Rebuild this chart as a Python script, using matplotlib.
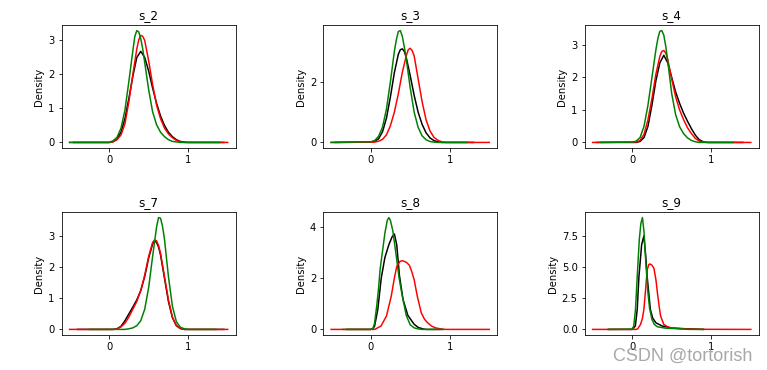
import matplotlib.pyplot as plt

# density curves (x, y) per series
titles = ['s_2', 's_3', 's_4', 's_7', 's_8', 's_9']

s2_black_x = [-0.45, 0.0, 0.05, 0.1, 0.15, 0.2, 0.25, 0.3, 0.35, 0.4, 0.45, 0.5, 0.55, 0.6, 0.65, 0.7, 0.75, 0.8, 0.85, 0.9, 0.95, 1.0, 1.45]
s2_black_y = [0, 0, 0.02, 0.1, 0.3, 0.7, 1.3, 1.95, 2.5, 2.68, 2.5, 2.1, 1.6, 1.15, 0.78, 0.5, 0.3, 0.17, 0.08, 0.03, 0.01, 0, 0]
s2_red_x = [-0.5, 0.0, 0.05, 0.1, 0.15, 0.2, 0.25, 0.3, 0.35, 0.375, 0.4, 0.425, 0.45, 0.5, 0.55, 0.6, 0.65, 0.7, 0.75, 0.8, 0.85, 0.9, 0.95, 1.5]
s2_red_y = [0, 0, 0.02, 0.08, 0.22, 0.55, 1.2, 2.0, 2.75, 3.02, 3.15, 3.12, 3.0, 2.4, 1.7, 1.1, 0.7, 0.42, 0.25, 0.14, 0.06, 0.02, 0, 0]
s2_green_x = [-0.5, 0.0, 0.05, 0.1, 0.15, 0.2, 0.25, 0.3, 0.325, 0.35, 0.375, 0.4, 0.425, 0.45, 0.5, 0.55, 0.6, 0.65, 0.7, 0.75, 0.8, 0.9, 1.4]
s2_green_y = [0, 0, 0.05, 0.15, 0.42, 0.95, 1.8, 2.7, 3.12, 3.29, 3.25, 3.05, 2.75, 2.35, 1.55, 0.9, 0.52, 0.3, 0.17, 0.08, 0.03, 0, 0]

s3_black_x = [-0.45, 0.0, 0.05, 0.1, 0.15, 0.2, 0.25, 0.3, 0.35, 0.375, 0.4, 0.425, 0.45, 0.5, 0.55, 0.6, 0.65, 0.7, 0.75, 0.8, 0.85, 0.9, 1.3]
s3_black_y = [0, 0.01, 0.04, 0.12, 0.35, 0.8, 1.5, 2.3, 2.9, 3.05, 3.08, 3.0, 2.8, 2.2, 1.55, 1.0, 0.6, 0.32, 0.15, 0.06, 0.02, 0, 0]
s3_red_x = [-0.5, 0.05, 0.1, 0.15, 0.2, 0.25, 0.3, 0.35, 0.4, 0.45, 0.475, 0.5, 0.525, 0.55, 0.6, 0.65, 0.7, 0.75, 0.8, 0.85, 0.9, 0.95, 1.5]
s3_red_y = [0, 0.01, 0.04, 0.1, 0.25, 0.55, 1.0, 1.6, 2.3, 2.85, 3.05, 3.1, 3.02, 2.85, 2.1, 1.35, 0.75, 0.38, 0.17, 0.07, 0.02, 0, 0]
s3_green_x = [-0.5, 0.0, 0.05, 0.1, 0.15, 0.2, 0.25, 0.3, 0.325, 0.35, 0.375, 0.4, 0.425, 0.45, 0.5, 0.55, 0.6, 0.65, 0.7, 0.75, 0.8, 0.85, 1.22]
s3_green_y = [0, 0.02, 0.06, 0.2, 0.5, 1.1, 2.0, 3.0, 3.38, 3.65, 3.68, 3.5, 3.15, 2.75, 1.8, 1.0, 0.5, 0.22, 0.09, 0.03, 0.01, 0, 0]

s4_black_x = [-0.45, 0.05, 0.1, 0.15, 0.2, 0.25, 0.3, 0.35, 0.4, 0.45, 0.5, 0.55, 0.6, 0.65, 0.7, 0.75, 0.8, 0.85, 0.9, 0.95, 1.4]
s4_black_y = [0, 0, 0.03, 0.15, 0.5, 1.15, 1.9, 2.45, 2.68, 2.45, 2.0, 1.55, 1.2, 0.9, 0.65, 0.42, 0.22, 0.08, 0.02, 0, 0]
s4_red_x = [-0.5, 0.05, 0.1, 0.15, 0.2, 0.25, 0.3, 0.35, 0.375, 0.4, 0.425, 0.45, 0.5, 0.55, 0.6, 0.65, 0.7, 0.75, 0.8, 0.85, 0.9, 0.95, 1.5]
s4_red_y = [0, 0.01, 0.06, 0.25, 0.7, 1.35, 2.1, 2.65, 2.8, 2.83, 2.75, 2.55, 1.95, 1.4, 1.0, 0.7, 0.45, 0.27, 0.12, 0.04, 0.01, 0, 0]
s4_green_x = [-0.4, 0.0, 0.05, 0.1, 0.15, 0.2, 0.25, 0.3, 0.325, 0.35, 0.375, 0.4, 0.425, 0.45, 0.5, 0.55, 0.6, 0.65, 0.7, 0.75, 0.8, 0.85, 1.28]
s4_green_y = [0, 0.01, 0.04, 0.15, 0.5, 1.15, 2.0, 2.85, 3.2, 3.42, 3.44, 3.3, 2.95, 2.5, 1.5, 0.85, 0.48, 0.27, 0.14, 0.06, 0.02, 0, 0]

s7_black_x = [-0.4, 0.05, 0.1, 0.15, 0.2, 0.25, 0.3, 0.35, 0.4, 0.45, 0.5, 0.55, 0.575, 0.6, 0.625, 0.65, 0.7, 0.75, 0.8, 0.85, 0.9, 0.95, 1.45]
s7_black_y = [0, 0, 0.02, 0.1, 0.28, 0.5, 0.72, 0.95, 1.25, 1.7, 2.3, 2.75, 2.85, 2.8, 2.65, 2.4, 1.65, 0.9, 0.38, 0.12, 0.03, 0, 0]
s7_red_x = [-0.5, 0.05, 0.1, 0.15, 0.2, 0.25, 0.3, 0.35, 0.4, 0.45, 0.5, 0.55, 0.575, 0.6, 0.625, 0.65, 0.7, 0.75, 0.8, 0.85, 0.9, 0.95, 1.5]
s7_red_y = [0, 0, 0.02, 0.08, 0.2, 0.4, 0.65, 0.9, 1.25, 1.75, 2.35, 2.8, 2.88, 2.85, 2.7, 2.45, 1.7, 0.95, 0.4, 0.12, 0.03, 0, 0]
s7_green_x = [-0.25, 0.2, 0.25, 0.3, 0.35, 0.4, 0.45, 0.5, 0.55, 0.6, 0.625, 0.65, 0.675, 0.7, 0.75, 0.8, 0.85, 0.9, 0.95, 1.0, 1.35]
s7_green_y = [0, 0, 0.02, 0.05, 0.12, 0.28, 0.65, 1.35, 2.35, 3.3, 3.6, 3.58, 3.32, 2.9, 1.7, 0.75, 0.25, 0.07, 0.02, 0, 0]

s8_black_x = [-0.3, 0.0, 0.03, 0.05, 0.09, 0.134, 0.18, 0.23, 0.27, 0.3, 0.33, 0.364, 0.41, 0.47, 0.55, 0.6, 0.66, 0.7, 0.9]
s8_black_y = [0, 0, 0.03, 0.13, 0.77, 2.0, 2.8, 3.3, 3.6, 3.72, 3.3, 2.1, 1.16, 0.55, 0.2, 0.08, 0.02, 0, 0]
s8_red_x = [-0.5, 0.05, 0.07, 0.13, 0.2, 0.26, 0.3, 0.33, 0.37, 0.4, 0.45, 0.49, 0.52, 0.55, 0.59, 0.64, 0.68, 0.72, 0.77, 0.82, 0.9, 0.95, 1.5]
s8_red_y = [0, 0, 0.03, 0.13, 0.52, 1.29, 2.0, 2.45, 2.65, 2.68, 2.62, 2.5, 2.25, 1.94, 1.29, 0.65, 0.4, 0.26, 0.13, 0.06, 0.01, 0, 0]
s8_green_x = [-0.35, 0.0, 0.03, 0.05, 0.08, 0.1, 0.12, 0.15, 0.18, 0.21, 0.23, 0.25, 0.28, 0.32, 0.36, 0.4, 0.45, 0.5, 0.55, 0.6, 0.65, 0.92]
s8_green_y = [0, 0, 0.05, 0.25, 1.0, 1.6, 2.35, 3.05, 3.75, 4.25, 4.36, 4.25, 3.85, 2.95, 2.0, 1.3, 0.55, 0.18, 0.06, 0.02, 0, 0]

s9_black_x = [-0.3, 0.0, 0.04, 0.064, 0.085, 0.12, 0.148, 0.17, 0.19, 0.23, 0.26, 0.3, 0.38, 0.51, 0.76, 0.9]
s9_black_y = [0, 0, 0.27, 1.6, 4.2, 6.8, 7.5, 6.0, 4.2, 1.6, 0.9, 0.53, 0.27, 0.1, 0.03, 0]
s9_red_x = [-0.5, 0.05, 0.07, 0.106, 0.13, 0.148, 0.17, 0.19, 0.21, 0.225, 0.25, 0.275, 0.3, 0.32, 0.34, 0.36, 0.4, 0.45, 0.49, 0.64, 0.8, 1.5]
s9_red_y = [0, 0, 0.05, 0.4, 0.9, 1.6, 3.2, 4.77, 5.2, 5.25, 5.15, 4.9, 4.0, 2.9, 1.9, 1.06, 0.4, 0.2, 0.13, 0.05, 0.01, 0]
s9_green_x = [-0.3, 0.0, 0.02, 0.042, 0.064, 0.09, 0.11, 0.13, 0.15, 0.17, 0.2, 0.22, 0.25, 0.28, 0.32, 0.42, 0.6, 0.72, 0.9]
s9_green_y = [0, 0.02, 0.27, 1.6, 4.24, 7.2, 8.5, 8.97, 7.8, 5.6, 2.9, 1.7, 0.8, 0.4, 0.21, 0.1, 0.05, 0, 0]

curves = [
    [(s2_black_x, s2_black_y), (s2_red_x, s2_red_y), (s2_green_x, s2_green_y)],
    [(s3_black_x, s3_black_y), (s3_red_x, s3_red_y), (s3_green_x, s3_green_y)],
    [(s4_black_x, s4_black_y), (s4_red_x, s4_red_y), (s4_green_x, s4_green_y)],
    [(s7_black_x, s7_black_y), (s7_red_x, s7_red_y), (s7_green_x, s7_green_y)],
    [(s8_black_x, s8_black_y), (s8_red_x, s8_red_y), (s8_green_x, s8_green_y)],
    [(s9_black_x, s9_black_y), (s9_red_x, s9_red_y), (s9_green_x, s9_green_y)],
]
yticks = [[0, 1, 2, 3], [0, 2], [0, 1, 2, 3], [0, 1, 2, 3], [0, 2, 4], [0, 2.5, 5, 7.5]]
xticks = [0, 1]
colors = ['black', 'red', 'green']

fig, axes = plt.subplots(2, 3, figsize=(767/72, 370/72), dpi=72)
fig.subplots_adjust(left=0.0804, right=0.9892, top=0.9324, bottom=0.0946, wspace=0.503, hspace=0.52)

for ax, title, series, yt in zip(axes.flat, titles, curves, yticks):
    for (x, y), c in zip(series, colors):
        ax.plot(x, y, color=c, lw=1.5)
    ax.set_xlim(-0.6, 1.6)
    ax.set_xticks(xticks)
    ax.set_yticks(yt)
    ax.set_ylabel('Density')
    ax.set_title(title)

# watermark, sits over the s_9 tick labels like in the source image
fig.text(0.9805, 0.024, 'CSDN @tortorish', ha='right', va='baseline',
         fontsize=18, family='Liberation Sans', color='#999999', alpha=0.85)

plt.savefig('out.png', dpi=72)
